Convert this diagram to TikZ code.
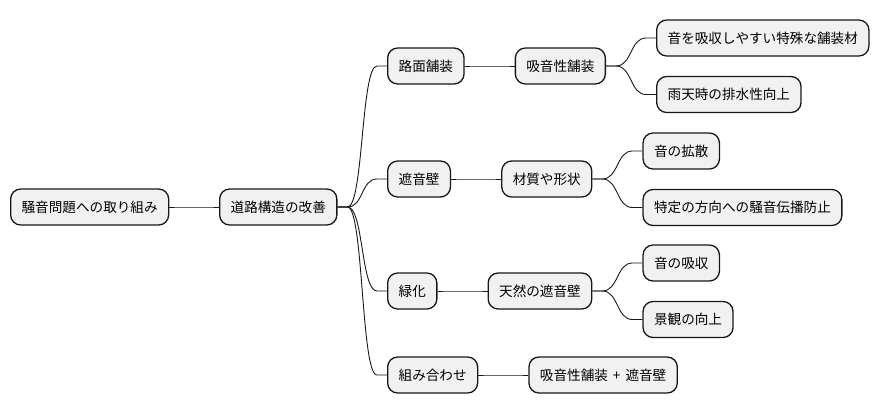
\documentclass[tikz,border=0pt]{standalone}
\usepackage{fontspec}
\usepackage{tikz}
\usetikzlibrary{positioning}
\newfontfamily\jpfont{Noto Sans CJK JP}
\definecolor{boxfill}{HTML}{F1F1F1}
\definecolor{linecol}{HTML}{181818}

\tikzset{
    topic/.style={draw=linecol, fill=boxfill, rounded corners=10pt, line width=1.3pt,
        minimum height=36pt, inner xsep=11pt, inner ysep=0pt, anchor=west,
        font=\jpfont\fontsize{13.6}{16}\selectfont},
    link/.style={draw=linecol, line width=0.9pt}
}

% branch from a parent to one child
\newcommand{\branch}[2]{%
    \draw[link] (#1.east) -- ++(10,0) .. controls +(16,0) and +(-16,0) .. ([xshift=-10pt]#2.west) -- (#2.west);}

\begin{document}
\begin{tikzpicture}[x=1pt, y=-1pt]
            \useasboundingbox (0,0) rectangle (880,415);
            \pgfmathsetmacro{\firstCol}{10}
            \pgfmathsetmacro{\secondCol}{219}
            \pgfmathsetmacro{\thirdCol}{387}

            \node[topic] (root) at (\firstCol, 207) {騒音問題への取り組み};
            \node[topic] (road) at (\secondCol, 207) {道路構造の改善};

            % second layer
            \node[topic] (pave) at (\thirdCol, 66) {路面舗装};
            \node[topic] (wall) at (\thirdCol, 179) {遮音壁};
            \node[topic] (green) at (\thirdCol, 291) {緑化};
            \node[topic] (combo) at (\thirdCol, 375) {組み合わせ};

            % third layer
            \node[topic, right=50pt of pave] (absorb) {吸音性舗装};
            \node[topic, right=50pt of wall] (shape) {材質や形状};
            \node[topic, right=50pt of green] (natural) {天然の遮音壁};
            \node[topic, right=50pt of combo] (both) {吸音性舗装\hspace{5pt}+\hspace{5pt}遮音壁};

            % leaves
            \node[topic] (mat) at ([xshift=50pt]absorb.east |- 0,38) {音を吸収しやすい特殊な舗装材};
            \node[topic] (rain) at ([xshift=50pt]absorb.east |- 0,94.5) {雨天時の排水性向上};
            \node[topic] (spread) at ([xshift=50pt]shape.east |- 0,151) {音の拡散};
            \node[topic] (block) at ([xshift=50pt]shape.east |- 0,207.5) {特定の方向への騒音伝播防止};
            \node[topic] (soak) at ([xshift=50pt]natural.east |- 0,263) {音の吸収};
            \node[topic] (view) at ([xshift=50pt]natural.east |- 0,319.5) {景観の向上};

            % connect everything
            \branch{root}{road}
            \foreach \c in {pave, wall, green, combo}{
                \branch{road}{\c}
            }
            \branch{pave}{absorb}
            \branch{wall}{shape}
            \branch{green}{natural}
            \branch{combo}{both}
            \foreach \c in {mat, rain}{
                \branch{absorb}{\c}
            }
            \foreach \c in {spread, block}{
                \branch{shape}{\c}
            }
            \foreach \c in {soak, view}{
                \branch{natural}{\c}
            }

        \end{tikzpicture}
\end{document}
